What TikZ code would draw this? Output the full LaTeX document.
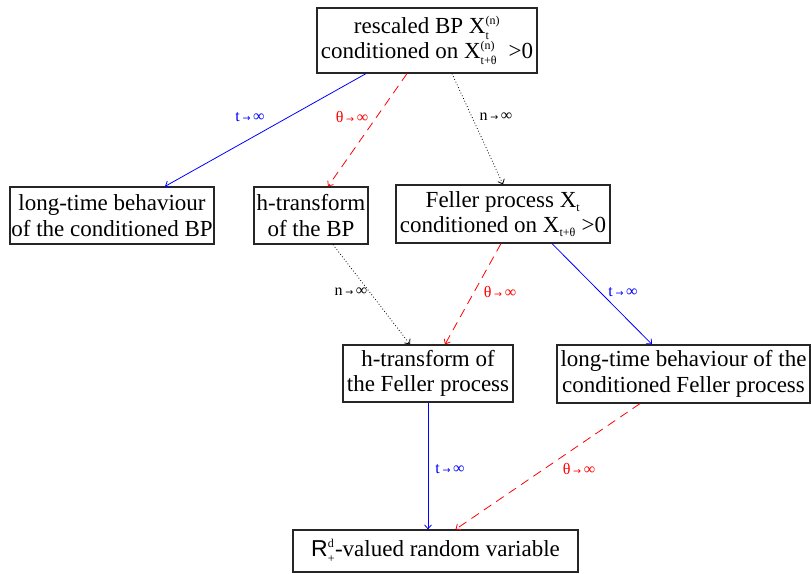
\documentclass[tikz,border=0pt]{standalone}
\usepackage{fontspec}
\setmainfont{Liberation Serif}
\newfontfamily\arrowfont{DejaVu Sans}
\newfontfamily\rfont{Liberation Sans}
\usetikzlibrary{arrows.meta,calc}

% limit labels such as t -> infinity
\newcommand\limlab[1]{#1\,{\arrowfont\fontsize{9.5}{9.5}\selectfont →}\,∞}
% stacked superscript / subscript in small text
\newcommand\supsub[2]{\ensuremath{^{\mbox{\fontsize{12}{12}\selectfont #1}}_{\mbox{\fontsize{12}{12}\selectfont #2}}}}
\newcommand\subonly[1]{\ensuremath{_{\mbox{\fontsize{12}{12}\selectfont #1}}}}

\tikzset{
  box/.style={draw=black!85, line width=1.2pt, align=center, inner sep=0pt,
    font=\fontsize{23}{25.5}\selectfont},
  lab/.style={font=\fontsize{16}{16}\selectfont, inner sep=0pt},
  tip/.style={-{Straight Barb[length=4pt,width=7pt,line width=0.8pt]}},
  tlim/.style={tip, blue, line width=0.8pt},
  thlim/.style={tip, red, line width=0.8pt, dash pattern=on 9pt off 6pt},
  nlim/.style={tip, black, line width=0.8pt, dash pattern=on 0.8pt off 2.2pt},
}

\begin{document}
\begin{tikzpicture}[x=1pt,y=-1pt]
\useasboundingbox (0,0) rectangle (811,573);

\node[box, minimum width=220pt, minimum height=65pt] (top) at (427,40.5)
  {rescaled BP X\supsub{(n)}{t}\\conditioned on X\supsub{(n)}{t+θ}\ \ >0};
\node[box, minimum width=204pt, minimum height=57pt] (lt1) at (112,215.5)
  {long-time behaviour\\of the conditioned BP};
\node[box, minimum width=114pt, minimum height=57pt] (hbp) at (311,215.5)
  {h-transform\\of the BP};
\node[box, minimum width=214pt, minimum height=58pt] (fel) at (503,214)
  {Feller process X\subonly{t}\\conditioned on X\subonly{t+θ} >0};
\node[box, minimum width=170pt, minimum height=57pt] (hfel) at (428,373.5)
  {h-transform of\\the Feller process};
\node[box, minimum width=253pt, minimum height=58pt] (ltf) at (683.5,374)
  {long-time behaviour of the\\conditioned Feller process};
\node[box, minimum width=285pt, minimum height=42pt] (rv) at (435.5,551)
  {{\rfont R}\supsub{d}{+}-valued random variable};

% connectors
\draw[tlim]  ($(top.south)+(-61,0)$) -- ($(lt1.north)+(53,0)$);
\draw[thlim] ($(top.south)+(-20,0)$) -- ($(hbp.north)+(17,0)$);
\draw[nlim]  ($(top.south)+(25,0)$)  -- (fel.north);
\draw[nlim]  ($(hbp.south)+(22,0)$)  -- ($(hfel.north)+(-18,0)$);
\draw[thlim] ($(fel.south)+(-2,0)$)  -- ($(hfel.north)+(17,0)$);
\draw[tlim]  ($(fel.south)+(49,0)$)  -- ($(ltf.north)+(-31.5,0)$);
\draw[tlim]  (hfel.south) -- (hfel.south |- rv.north);
\draw[thlim] ($(ltf.south)+(-43.5,0)$) -- ($(rv.north)+(20,0)$);

% labels
\node[lab, text=blue] (l1) at (250,117) {\limlab{t}};
\node[lab, text=red]  (l2) at (352,117) {\limlab{θ}};
\node[lab]            (l3) at (496,117) {\limlab{n}};
\node[lab]            (l4) at (351,292) {\limlab{n}};
\node[lab, text=red]  (l5) at (500,292) {\limlab{θ}};
\node[lab, text=blue] (l6) at (623,292) {\limlab{t}};
\node[lab, text=blue] (l7) at (450,469) {\limlab{t}};
\node[lab, text=red]  (l8) at (579,469) {\limlab{θ}};
\end{tikzpicture}
\end{document}
